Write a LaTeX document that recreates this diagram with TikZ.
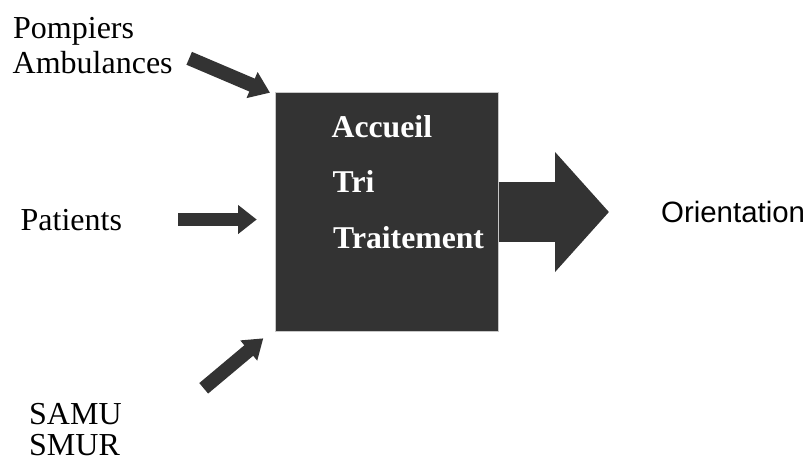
\documentclass[tikz,border=0pt]{standalone}
\usepackage{fontspec}
\setmainfont{Liberation Serif}
\newfontfamily\orientfont{Liberation Sans}
\usetikzlibrary{arrows.meta}
\definecolor{fonce}{RGB}{51,51,51}
\begin{document}
\begin{tikzpicture}[x=1pt,y=-1pt,
		texte/.style={anchor=base west,inner sep=0pt,font=\fontsize{32}{36}\selectfont},
		blanc/.style={texte,text=white,font=\fontsize{31.7}{36}\selectfont\bfseries},
		fleche/.style={fonce,line width=#1},
		boite/.style={draw=black!22,line width=0.8pt,fill=fonce,anchor=north west,minimum width=223pt,minimum height=239pt,inner sep=0pt}]
	\useasboundingbox (0,0) rectangle (808,461); %Cadre
		%Textes d'entrée
	\node (pompiers) [texte] at (13,38.5) {Pompiers};
	\node (ambulances) [texte] at (12.5,73.5) {Ambulances};
	\node (patients) [texte] at (20.5,230) {Patients};
	\node (samu) [texte] at (29,424.3) {SAMU};
	\node (smur) [texte] at (29,455) {SMUR};
		%Boîte centrale
	\node (urgences) [boite] at (275,92) {};
	\node (accueil) [blanc] at (331.5,137.7) {Accueil};
	\node (tri) [blanc] at (332.5,192.7) {Tri};
	\node (traitement) [blanc] at (333,248.3) {Traitement};
		%Sortie
	\node (orientation) [anchor=base west,inner sep=0pt,font=\orientfont\fontsize{29.4}{34}\selectfont] at (661,222.7) {Orientation};
		%Flèches
	\coordinate (hautA) at (189.2,58.3);
	\coordinate (hautB) at (270,92.7);
	\coordinate (milA) at (178,219.5);
	\coordinate (milB) at (256.7,219.5);
	\coordinate (basA) at (203.7,388.3);
	\coordinate (basB) at (263.3,338.3);
	\coordinate (sortie) at (609,212);
	\draw[fleche=14pt,-{Triangle[length=19.5pt,width=27pt]}] (hautA) -- (hautB); %Pompiers
	\draw[fleche=13.3pt,-{Triangle[length=18.7pt,width=28pt]}] (milA) -- (milB); %Patients
	\draw[fleche=13.7pt,-{Triangle[length=19pt,width=25pt]}] (basA) -- (basB); %SAMU
	\draw[fleche=60pt,-{Triangle[length=54pt,width=117pt]}] (urgences.east |- sortie) -- (sortie); %Orientation
\end{tikzpicture}
\end{document}
